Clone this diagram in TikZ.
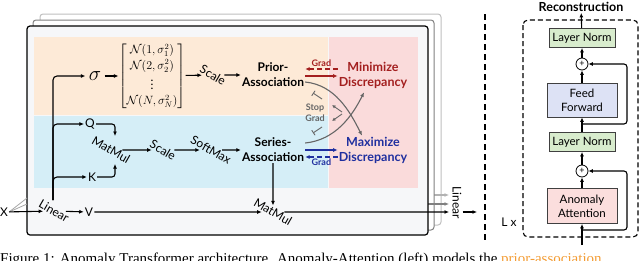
\documentclass[tikz,border=0pt]{standalone}
\usepackage{amsmath}
\usepackage{fontspec}
\setsansfont{Lato}
\newfontfamily\leyendafont{Liberation Serif}
\usetikzlibrary{arrows.meta, positioning, calc}

\definecolor{fondo}{HTML}{F6F7F9}
\definecolor{naranja}{HTML}{FDEAD7}
\definecolor{celeste}{HTML}{D5EEF7}
\definecolor{rosa}{HTML}{FADBDB}
\definecolor{rojo}{HTML}{A31F1F}
\definecolor{azul}{HTML}{1F2F9F}
\definecolor{gris}{HTML}{666666}
\definecolor{verde}{HTML}{D8ECCD}
\definecolor{lila}{HTML}{DDE2F5}
\definecolor{salmon}{HTML}{FBDEDD}
\definecolor{anaranjado}{HTML}{F39C34}

\begin{document}
\begin{tikzpicture}[x=1pt, y=-1pt,
      font=\sffamily\fontsize{12}{14}\selectfont,
      flecha/.style={-{Latex[length=4.5pt,width=4pt]}, line width=1.1pt},
      giro/.style={rotate=-30, inner sep=1pt},
      texto/.style={align=center, inner sep=1pt,
                    font=\sffamily\bfseries\fontsize{12}{15}\selectfont},
      grad/.style={inner sep=0.5pt, font=\sffamily\bfseries\fontsize{9}{10}\selectfont},
      bloque/.style={draw=black!75, line width=0.8pt, minimum width=66pt,
                     minimum height=19pt, align=center, inner sep=1pt,
                     font=\sffamily\fontsize{11.5}{14}\selectfont},
      suma/.style={draw, circle, line width=0.8pt, minimum size=12pt, inner sep=0pt,
                   font=\sffamily\fontsize{9}{9}\selectfont},
      corte/.style={gris, line width=0.9pt}]
    \useasboundingbox (0,0) rectangle (640,260);
    \clip (0,0) rectangle (640,260);

    % capas apiladas del fondo
    \draw[black!25, line width=1pt, rounded corners=3pt, fill=white] (40,14) rectangle (441,225);
    \coordinate (c3) at (430,195);
    \coordinate (salida3) at (449,195);
    \draw[flecha, black!30] (c3) -- (salida3);
    \draw[black!50, line width=1pt, rounded corners=3pt, fill=white] (33,20) rectangle (434,230);
    \coordinate (c2) at (420,204);
    \coordinate (salida2) at (449,204);
    \draw[flecha, black!50] (c2) -- (salida2);

    % capa principal
    \draw[line width=1.2pt, rounded corners=3pt, fill=fondo] (27,26) rectangle (428,235);
    \fill[naranja] (34,37) rectangle (328,115);
    \fill[celeste] (34,116) rectangle (328,188);
    \fill[rosa] (329,37) rectangle (418,188);

    % entrada
    \node[inner sep=1pt] (x) at (4,212) {X};
    \coordinate (g2) at (27,204);
    \coordinate (g3) at (27,198);
    \draw[black!35, line width=0.8pt] (x.east) -- (g2);
    \draw[black!35, line width=0.8pt] (x.east) -- (g3);
    \node[giro] (lineal) at (54,211) {Linear};
    \draw[flecha] (x) -- (lineal);
    \coordinate (tronco) at (53,200);

    % rama de la asociacion previa
    \node (sigma) at (95,76) {\fontsize{20}{20}\selectfont$\sigma$};
    \node[inner sep=0pt] (matriz) at (152,76) {\fontsize{12}{15.5}\selectfont$\begin{bmatrix}
        \mathcal{N}(1,\sigma_1^2)\\ \mathcal{N}(2,\sigma_2^2)\\ \vdots\\ \mathcal{N}(N,\sigma_N^2)
      \end{bmatrix}$};
    \node[giro] (esc1) at (213,75) {Scale};
    \node[texto] (previa) at (273,75) {Prior-\\Association};
    \node[texto, text=rojo, font=\sffamily\bfseries\fontsize{12.5}{15}\selectfont] (minimiza) at (373,75) {Minimize\\Discrepancy};
    \draw[flecha, rounded corners=4pt] (tronco) |- (sigma);
    \draw[flecha] (sigma) -- (matriz);
    \draw[flecha] (matriz) -- (esc1);
    \draw[flecha] (esc1) -- (previa);
    \draw[flecha, rojo] ([yshift=-1pt]previa.east) -- ([yshift=-1pt]minimiza.west);
    \draw[flecha, rojo, dash pattern=on 5pt off 3pt] ([yshift=6pt]minimiza.west)
      -- node[grad, above=1pt, text=rojo] {Grad} ([yshift=6pt]previa.east);

    % rama de la asociacion de la serie
    \node[inner sep=1pt] (q) at (90,124) {Q};
    \node[inner sep=1pt] (k) at (92,177) {K};
    \node[giro] (mm1) at (111,150) {MatMul};
    \node[giro] (esc2) at (163,150) {Scale};
    \node[giro] (softmax) at (211,150) {SoftMax};
    \node[texto] (serie) at (273,150) {Series-\\Association};
    \node[texto, text=azul, font=\sffamily\bfseries\fontsize{12.5}{15}\selectfont] (maximiza) at (373,150) {Maximize\\Discrepancy};
    \draw[flecha, rounded corners=4pt] (tronco) |- (q);
    \draw[flecha, rounded corners=4pt] (tronco) |- (k);
    \draw[flecha, rounded corners=3pt] (q) -| ($(mm1)+(4,-14)$);
    \draw[flecha, rounded corners=3pt] (k) -| ($(mm1)+(4,14)$);
    \draw[flecha] (mm1) -- (esc2);
    \draw[flecha] (esc2) -- (softmax);
    \draw[flecha] (softmax) -- (serie);
    \draw[flecha, azul] (serie.east) -- (maximiza.west);
    \draw[flecha, azul, dash pattern=on 5pt off 3pt] ([yshift=-7pt]maximiza.west)
      -- node[grad, below=1pt, text=azul] {Grad} ([yshift=-7pt]serie.east);

    % cruce de gradientes
    \draw[flecha, gris] ([yshift=-7pt]previa.east) .. controls +(30,3) and +(-12,-24) .. ([xshift=-11pt]maximiza.north);
    \draw[flecha, gris] ([yshift=7pt]serie.east) .. controls +(30,-3) and +(-12,24) .. ([xshift=-9pt,yshift=-3pt]minimiza.south);
    \coordinate (cruce) at (342,113);
    \draw[corte, -{Latex[length=3.5pt,width=3.5pt]}] ($(cruce)+(0,-1)$) -- ++(-10,-7);
    \draw[corte, -{Bar[width=6pt]}] ($(cruce)+(-20,-14)$) -- ++(-9,-6);
    \draw[corte, -{Latex[length=3.5pt,width=3.5pt]}] ($(cruce)+(0,1)$) -- ++(-10,7);
    \draw[corte, -{Bar[width=6pt]}] ($(cruce)+(-20,14)$) -- ++(-9,6);
    \node[grad, text=gris] (stop) at (315,108) {Stop};
    \node[grad, text=gris, below=1pt of stop] (stopgrad) {Grad};

    % valores
    \node[inner sep=1pt] (v) at (89,212) {V};
    \node[giro] (mm2) at (273,212) {MatMul};
    \draw[flecha] (lineal) -- (v);
    \draw[flecha] (v) -- (mm2);
    \draw[flecha] (serie) -- (mm2);
    \coordinate (salida1) at (449,212);
    \draw[flecha] (mm2) -- (salida1);
    \node[rotate=-90, inner sep=1pt] (lineal2) at (457,203) {Linear};
    \coordinate (fin) at (477,212);
    \draw[flecha] ([yshift=-9pt]lineal2.north) -- (fin);

    % separador
    \draw[line width=1.3pt, dash pattern=on 6pt off 4pt] (485,14) -- (485,240);

    % bloque de reconstruccion
    \draw[line width=1.1pt, dash pattern=on 5pt off 3pt, rounded corners=5pt] (523,20) rectangle (638,237);
    \node[bloque, fill=salmon, minimum width=70pt, minimum height=35pt] (atencion) at (582,206) {Anomaly\\Attention};
    \node[suma] (suma2) at (582,171) {+};
    \node[bloque, fill=verde] (norma2) at (582,142) {Layer Norm};
    \node[bloque, fill=lila, minimum width=70pt, minimum height=34pt] (avance) at (582,100) {Feed\\Forward};
    \node[suma] (suma1) at (582,64) {+};
    \node[bloque, fill=verde] (norma1) at (582,38) {Layer Norm};
    \node[inner sep=1pt, font=\sffamily\bfseries\fontsize{12.5}{14}\selectfont] (reconst) at (581,7) {Reconstruction};
    \node[inner sep=1pt] (capas) at (509,222) {L x};
    \coordinate (entrada) at (582,245);
    \coordinate (rama1) at (582,230);
    \coordinate (rama2) at (582,124);
    \draw[flecha] (entrada) -- (atencion);
    \draw[flecha] (atencion) -- (suma2);
    \draw[flecha] (suma2) -- (norma2);
    \draw[flecha] (norma2) -- (avance);
    \draw[flecha] (avance) -- (suma1);
    \draw[flecha] (suma1) -- (norma1);
    \draw[flecha] (norma1) -- (reconst);
    \draw[flecha, rounded corners=3pt] (rama1) -| ([xshift=45pt]suma2.center) -- (suma2);
    \draw[flecha, rounded corners=3pt] (rama2) -| ([xshift=45pt]suma1.center) -- (suma1);

    % pie de figura
    \node[anchor=base west, inner sep=0pt, font=\leyendafont\fontsize{15}{18}\selectfont] (leyenda) at (0,263)
      {Figure 1: Anomaly Transformer architecture. Anomaly-Attention (left) models the \textcolor{anaranjado}{prior-association}};
  \end{tikzpicture}
\end{document}
